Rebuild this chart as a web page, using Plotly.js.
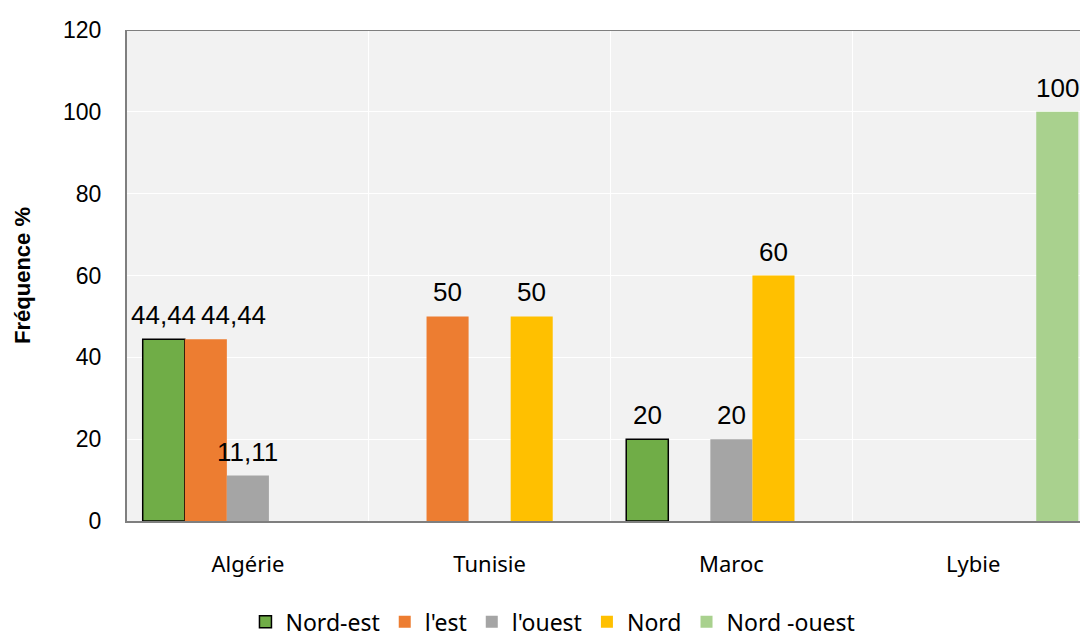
<!DOCTYPE html>
<html>
<head>
<meta charset="utf-8">
<script src="https://cdn.plot.ly/plotly-3.0.1.min.js"></script>
<style>
  html, body { margin: 0; padding: 0; background: #ffffff; }
  #chart { width: 1080px; height: 641px; }
</style>
</head>
<body>
<div id="chart"></div>
<script>
// Countries on the category axis
const pays = ['Algérie', 'Tunisie', 'Maroc', 'Lybie'];

// Frequency (%) per orientation, null where absent
const nordEst   = [44.44, null, 20, null];
const lEst      = [44.44, 50, null, null];
const lOuest    = [11.11, null, 20, null];
const nord      = [null, 50, 60, null];
const nordOuest = [null, null, null, 100];

const yTicks = [0, 20, 40, 60, 80, 100, 120];

// Decimal comma for the value labels
const label = v => String(v).replace('.', ',');

const series = [
  { name: 'Nord-est',    y: nordEst,   color: '#70ad47', outline: true },
  { name: "l'est",       y: lEst,      color: '#ed7d31' },
  { name: "l'ouest",     y: lOuest,    color: '#a5a5a5' },
  { name: 'Nord',        y: nord,      color: '#ffc000' },
  { name: 'Nord -ouest', y: nordOuest, color: '#a9d18e' }
];

const traces = series.map(s => ({
  type: 'bar',
  name: s.name,
  x: pays,
  y: s.y,
  marker: {
    color: s.color,
    line: { color: '#000000', width: s.outline ? 1.5 : 0 }
  },
  hoverinfo: 'skip'
}));

// Geometry of one group: category width in px and the share used by bars
const plotLeft = 127, plotRight = 1080, plotTop = 30, plotBottom = 521;
const xRange = [-0.5, 3.442];
const yRange = [0, 120];
const bargap = 0.13;
const catPx = (plotRight - plotLeft) / (xRange[1] - xRange[0]);
const barPx = catPx * (1 - bargap) / series.length;
const yPx = (plotBottom - plotTop) / (yRange[1] - yRange[0]);

// Value label font and a text measurer to keep neighbouring labels apart
const labelFont = { family: 'Liberation Sans, Arial, sans-serif', size: 26, color: '#000000' };
const ctx = document.createElement('canvas').getContext('2d');
ctx.font = labelFont.size + 'px "Liberation Sans", Arial, sans-serif';
const textW = t => ctx.measureText(t).width;

// Value labels above each bar, shifted to the bar's slot in its group;
// a label that would collide with the previous one at a similar height is nudged right
const annotations = [];
pays.forEach((p, j) => {
  let prev = null;
  series.forEach((s, i) => {
    const v = s.y[j];
    if (v === null) return;
    const t = label(v);
    const w = textW(t);
    let dx = (i - (series.length - 1) / 2) * barPx;
    if (prev && Math.abs(prev.v - v) * yPx < labelFont.size) {
      const minLeft = prev.right + 5;
      if (dx - w / 2 < minLeft) dx = minLeft + w / 2;
    }
    prev = { v: v, right: dx + w / 2 };
    annotations.push({
      x: p, y: v, xref: 'x', yref: 'y',
      text: t,
      showarrow: false,
      xanchor: 'center', yanchor: 'bottom',
      xshift: dx,
      yshift: 7,
      font: labelFont
    });
  });
});

const layout = {
  width: 1080,
  height: 641,
  margin: { l: plotLeft, r: 1080 - plotRight, t: plotTop, b: 641 - plotBottom },
  paper_bgcolor: '#ffffff',
  plot_bgcolor: '#f2f2f2',
  barmode: 'group',
  bargap: bargap,
  bargroupgap: 0,
  showlegend: true,
  xaxis: {
    type: 'category',
    range: xRange,
    tickson: 'boundaries',
    ticks: '',
    showgrid: true,
    gridcolor: '#ffffff',
    gridwidth: 1,
    showline: true,
    linecolor: '#7f7f7f',
    linewidth: 2,
    zeroline: false,
    tickfont: { family: 'Noto Sans, sans-serif', size: 22, color: '#000000' },
    ticklabelstandoff: 23
  },
  yaxis: {
    range: yRange,
    tickvals: yTicks,
    ticktext: yTicks.map(String),
    ticks: '',
    showgrid: true,
    gridcolor: '#ffffff',
    gridwidth: 1,
    showline: true,
    linecolor: '#7f7f7f',
    linewidth: 2,
    zeroline: false,
    tickfont: { family: 'Liberation Sans, Arial, sans-serif', size: 23, color: '#000000' },
    ticklabelstandoff: 19,
    title: {
      text: 'Fréquence %',
      font: { family: 'Liberation Sans, Arial, sans-serif', size: 22, color: '#000000', weight: 'bold' },
      standoff: 26
    }
  },
  legend: {
    orientation: 'h',
    xref: 'container',
    yref: 'container',
    x: 0.512,
    xanchor: 'center',
    y: 0.03,
    yanchor: 'middle',
    font: { family: 'Noto Sans, sans-serif', size: 23, color: '#000000' },
    itemwidth: 30,
    tracegroupgap: 0
  },
  annotations: annotations,
  shapes: [
    // top border of the plotting area
    { type: 'line', xref: 'paper', yref: 'y', x0: 0, x1: 1, y0: yRange[1], y1: yRange[1],
      line: { color: '#7f7f7f', width: 2 } }
  ]
};

Plotly.newPlot('chart', traces, layout, { displayModeBar: false, staticPlot: true });
</script>
</body>
</html>
